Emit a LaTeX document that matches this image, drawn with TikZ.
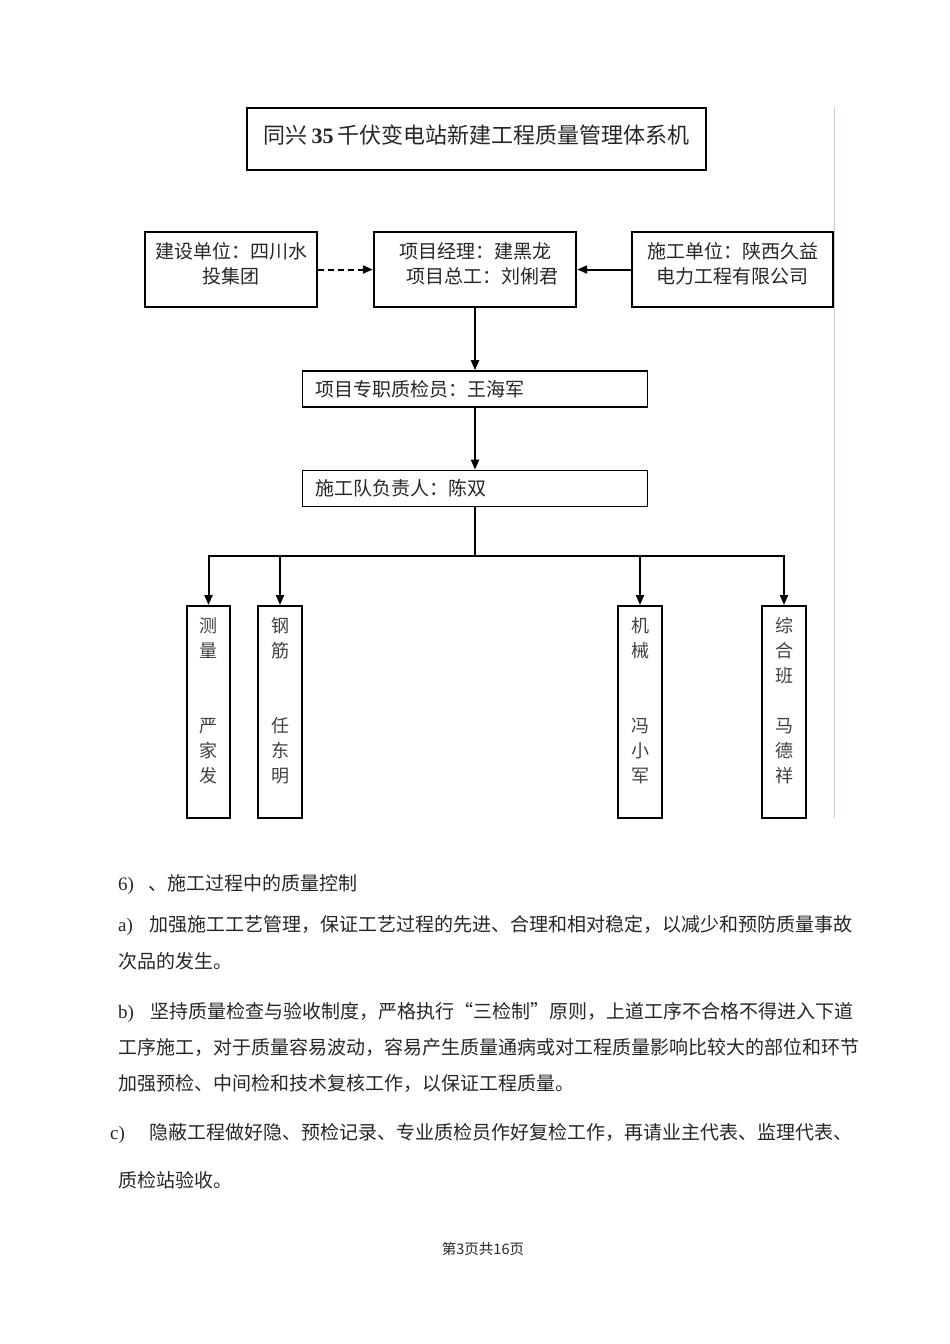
\documentclass[tikz,border=0pt]{standalone}
\usepackage{fontspec}
\setmainfont{Noto Sans CJK SC}
\newfontfamily\tnr{Liberation Serif}
\definecolor{rulegreen}{RGB}{190,218,190}
\usetikzlibrary{positioning,arrows.meta}

\begin{document}
\begin{tikzpicture}
[x=1pt, y=-1pt, font=\fontsize{19}{25}\selectfont, text=black!85]
\tikzstyle{box}=[draw, line width=1.5pt, inner sep=0pt, align=center]
\tikzstyle{unit}=[box, line width=2.4pt, minimum height=75pt]
\tikzstyle{inside}=[align=center, yshift=6pt]
\tikzstyle{row}=[box, minimum width=345pt, minimum height=36pt, text width=320pt, align=left]
\tikzstyle{team}=[box, line width=2pt, minimum width=44pt, minimum height=212pt]
\tikzstyle{member}=[align=center, inner sep=0pt, font=\fontsize{18}{25}\selectfont, text=black!75]
\tikzstyle{arr}=[line width=2pt, -{Triangle[length=10pt,width=8pt]}]
\tikzstyle{para}=[anchor=base west, inner sep=0pt]
\useasboundingbox (0,0) rectangle (950,1344);

% title
\node[box, line width=1.3pt, minimum width=459pt, minimum height=62pt,
  label={[inside, yshift=-2pt, font=\fontsize{22}{26}\selectfont]center:{同兴{\tnr\bfseries\,35\,}千伏变电站新建工程质量管理体系机}}]
  (T) at (476.5,139) {};

% top row
\node[unit, minimum width=202pt, label={[inside]center:{项目经理：建黑龙\\\hspace{14pt}项目总工：刘俐君}}] (PM) at (475,269.5) {};
\node[unit, minimum width=172pt, label={[inside]center:{建设单位：四川水\\投集团}}] (JS) at (231,269.5) {};
\node[unit, minimum width=201pt, label={[inside]center:{施工单位：陕西久益\\电力工程有限公司}}] (SG) at (732.5,269.5) {};

\node[row] (QC) [below=62pt of PM] {项目专职质检员：王海军};
\node[row] (DL) [below=62pt of QC] {施工队负责人：陈双};

% teams
\node[team, minimum width=43pt] (CL) at (208.5,712) {};
\node[team] (GJ) at (280,712) {};
\node[team] (JX) at (640,712) {};
\node[team] (ZH) at (784,712) {};
\node[member] (CLn) at ([yshift=11pt]CL.center) {测\\量\\[50pt]严\\家\\发};
\node[member] (GJn) at ([yshift=11pt]GJ.center) {钢\\筋\\[50pt]任\\东\\明};
\node[member] (JXn) at ([yshift=11pt]JX.center) {机\\械\\[50pt]冯\\小\\军};
\node[member] (ZHn) at ([yshift=11pt]ZH.center) {综\\合\\班\\[25pt]马\\德\\祥};

\coordinate (J) at (475,556);
\draw[arr] (PM) -- (QC);
\draw[arr] (QC) -- (DL);
\draw[arr, dash pattern=on 6pt off 4pt] (JS) -- (PM);
\draw[arr] (SG) -- (PM);
\draw[line width=2.4pt] (DL) -- (J);
\foreach \t in {CL,GJ,JX,ZH}
  \draw[arr] (J) -| (\t);

\draw[rulegreen, line width=1pt] (834,107) -- (834,818);

% text below
\node[para] (P0) at (118,890) {{\tnr 6)}\hspace{14pt}、施工过程中的质量控制};
\node[para] (Pa1) at (118,931) {{\tnr a)}\hspace{17pt}加强施工工艺管理，保证工艺过程的先进、合理和相对稳定，以减少和预防质量事故};
\node[para] (Pa2) at (118,968) {次品的发生。};
\node[para] (Pb1) at (118,1018) {{\tnr b)}\hspace{16pt}坚持质量检查与验收制度，严格执行“三检制”原则，上道工序不合格不得进入下道};
\node[para] (Pb2) at (118,1054) {工序施工，对于质量容易波动，容易产生质量通病或对工程质量影响比较大的部位和环节};
\node[para] (Pb3) at (118,1090) {加强预检、中间检和技术复核工作，以保证工程质量。};
\node[para] (Pc1) at (110,1139) {{\tnr c)}\hspace{25pt}隐蔽工程做好隐、预检记录、专业质检员作好复检工作，再请业主代表、监理代表、};
\node[para] (Pc2) at (118,1187) {质检站验收。};
\node[font=\fontsize{14.5}{17}\selectfont] (F) at (483,1249) {第3页共16页};

\end{tikzpicture}
\end{document}
